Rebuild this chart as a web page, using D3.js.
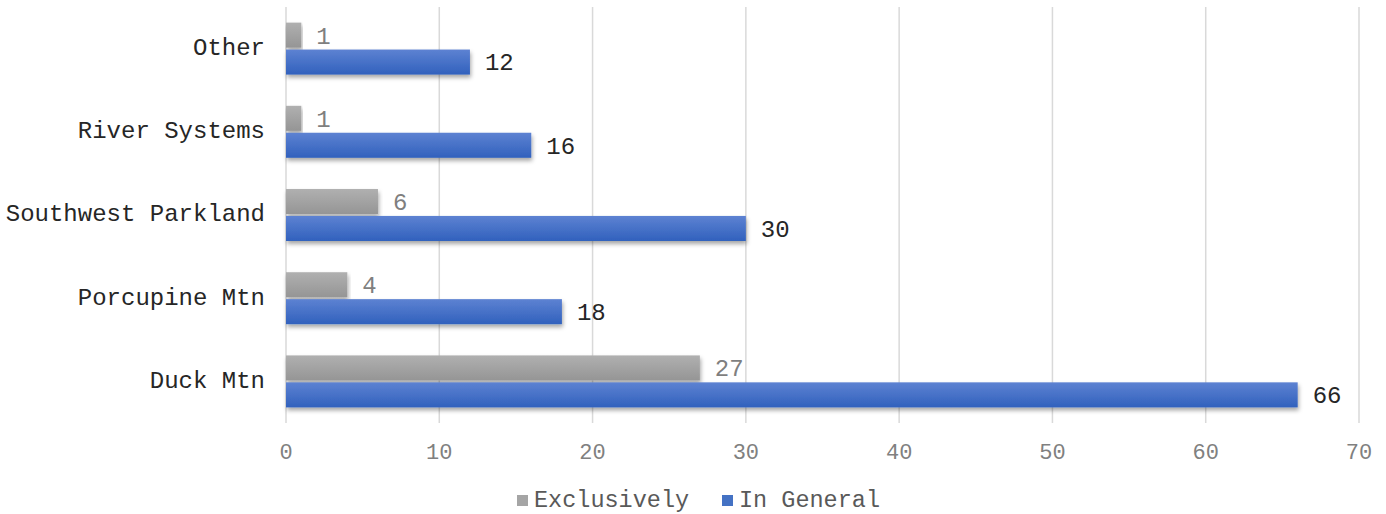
<!DOCTYPE html>
<html>
<head>
<meta charset="utf-8">
<script src="https://cdn.jsdelivr.net/npm/d3@7"></script>
<style>
  body { margin: 0; background: #fff; }
  text { font-family: "Liberation Mono", "Courier New", monospace; }
</style>
</head>
<body>
<div id="chart"></div>
<script>
// regions, top to bottom as drawn
var regions = ["Other", "River Systems", "Southwest Parkland", "Porcupine Mtn", "Duck Mtn"];
var seriesNames = ["Exclusively", "In General"];
var exclusively = [1, 1, 6, 4, 27];
var inGeneral = [12, 16, 30, 18, 66];
var xTicks = [0, 10, 20, 30, 40, 50, 60, 70];

var width = 1386, height = 514;
// note: can't call these top/left at global scope (window.top)
var plotLeft = 286, plotRight = 1359, plotTop = 7, plotBottom = 423;

var svg = d3.select("#chart").append("svg")
    .attr("width", width)
    .attr("height", height);

var defs = svg.append("defs");

function grad(id, c1, c2) {
  var g = defs.append("linearGradient").attr("id", id)
      .attr("x1", 0).attr("y1", 0).attr("x2", 0).attr("y2", 1);
  g.append("stop").attr("offset", "0%").attr("stop-color", c1);
  g.append("stop").attr("offset", "100%").attr("stop-color", c2);
}
grad("gGray", "#b0b0b0", "#959595");
grad("gBlue", "#5d82d2", "#3161bd");

defs.append("filter").attr("id", "shadow")
    .attr("x", "-5%").attr("y", "-30%").attr("width", "110%").attr("height", "180%")
  .append("feDropShadow")
    .attr("dx", 1).attr("dy", 3).attr("stdDeviation", 2)
    .attr("flood-color", "#000").attr("flood-opacity", 0.35);

var x = d3.scaleLinear().domain([0, 70]).range([plotLeft, plotRight]);

var y = d3.scaleBand().domain(regions).range([plotTop, plotBottom])
    .paddingInner(0.33).paddingOuter(0.165);

var y1 = d3.scaleBand().domain(seriesNames).range([0, y.bandwidth()]).padding(0.07);

var colors = { "Exclusively": "url(#gGray)", "In General": "url(#gBlue)" };
var legendColors = { "Exclusively": "#a5a5a5", "In General": "#4472c4" };
var labelColors = { "Exclusively": "#7f7f7f", "In General": "#262626" };

// gridlines
svg.append("g").selectAll("line")
  .data(xTicks)
  .enter().append("line")
    .attr("x1", d => x(d)).attr("x2", d => x(d))
    .attr("y1", plotTop).attr("y2", plotBottom)
    .attr("stroke", "#d9d9d9")
    .attr("stroke-width", 1.5);

// tick labels
svg.append("g").selectAll("text")
  .data(xTicks)
  .enter().append("text")
    .attr("x", d => x(d))
    .attr("y", 459)
    .attr("text-anchor", "middle")
    .attr("font-size", "22px")
    .attr("fill", "#808080")
    .text(d => d);

// category labels
svg.append("g").selectAll("text")
  .data(regions)
  .enter().append("text")
    .attr("x", 265)
    .attr("y", d => y(d) + y.bandwidth() / 2 - 2)
    .attr("dy", "0.35em")
    .attr("text-anchor", "end")
    .attr("font-size", "24px")
    .attr("fill", "#262626")
    .text(d => d);

var rows = regions.map(function(r, i) {
  return { region: r, values: [
    { key: "Exclusively", value: exclusively[i] },
    { key: "In General", value: inGeneral[i] }
  ]};
});

var groups = svg.append("g").selectAll("g")
  .data(rows)
  .enter().append("g")
    .attr("transform", d => "translate(0," + y(d.region) + ")");

groups.selectAll("rect")
  .data(d => d.values)
  .enter().append("rect")
    .attr("x", x(0))
    .attr("y", d => y1(d.key))
    .attr("width", d => x(d.value) - x(0))
    .attr("height", y1.bandwidth())
    .attr("fill", d => colors[d.key])
    .attr("filter", "url(#shadow)");

groups.selectAll("text")
  .data(d => d.values)
  .enter().append("text")
    .attr("x", d => x(d.value) + 15)
    .attr("y", d => y1(d.key) + y1.bandwidth() / 2)
    .attr("dy", "0.35em")
    .attr("font-size", "24px")
    .attr("fill", d => labelColors[d.key])
    .text(d => d.value);

// legend
var legendX = [517, 722];
var legend = svg.append("g").selectAll("g")
  .data(seriesNames)
  .enter().append("g")
    .attr("transform", (d, i) => "translate(" + legendX[i] + ",500)");

legend.append("rect")
    .attr("x", 0).attr("y", -5)
    .attr("width", 11).attr("height", 11)
    .attr("fill", d => legendColors[d]);

legend.append("text")
    .attr("x", 17)
    .attr("y", 0)
    .attr("dy", "0.3em")
    .attr("font-size", "23.5px")
    .attr("fill", "#595959")
    .text(d => d);
</script>
</body>
</html>
